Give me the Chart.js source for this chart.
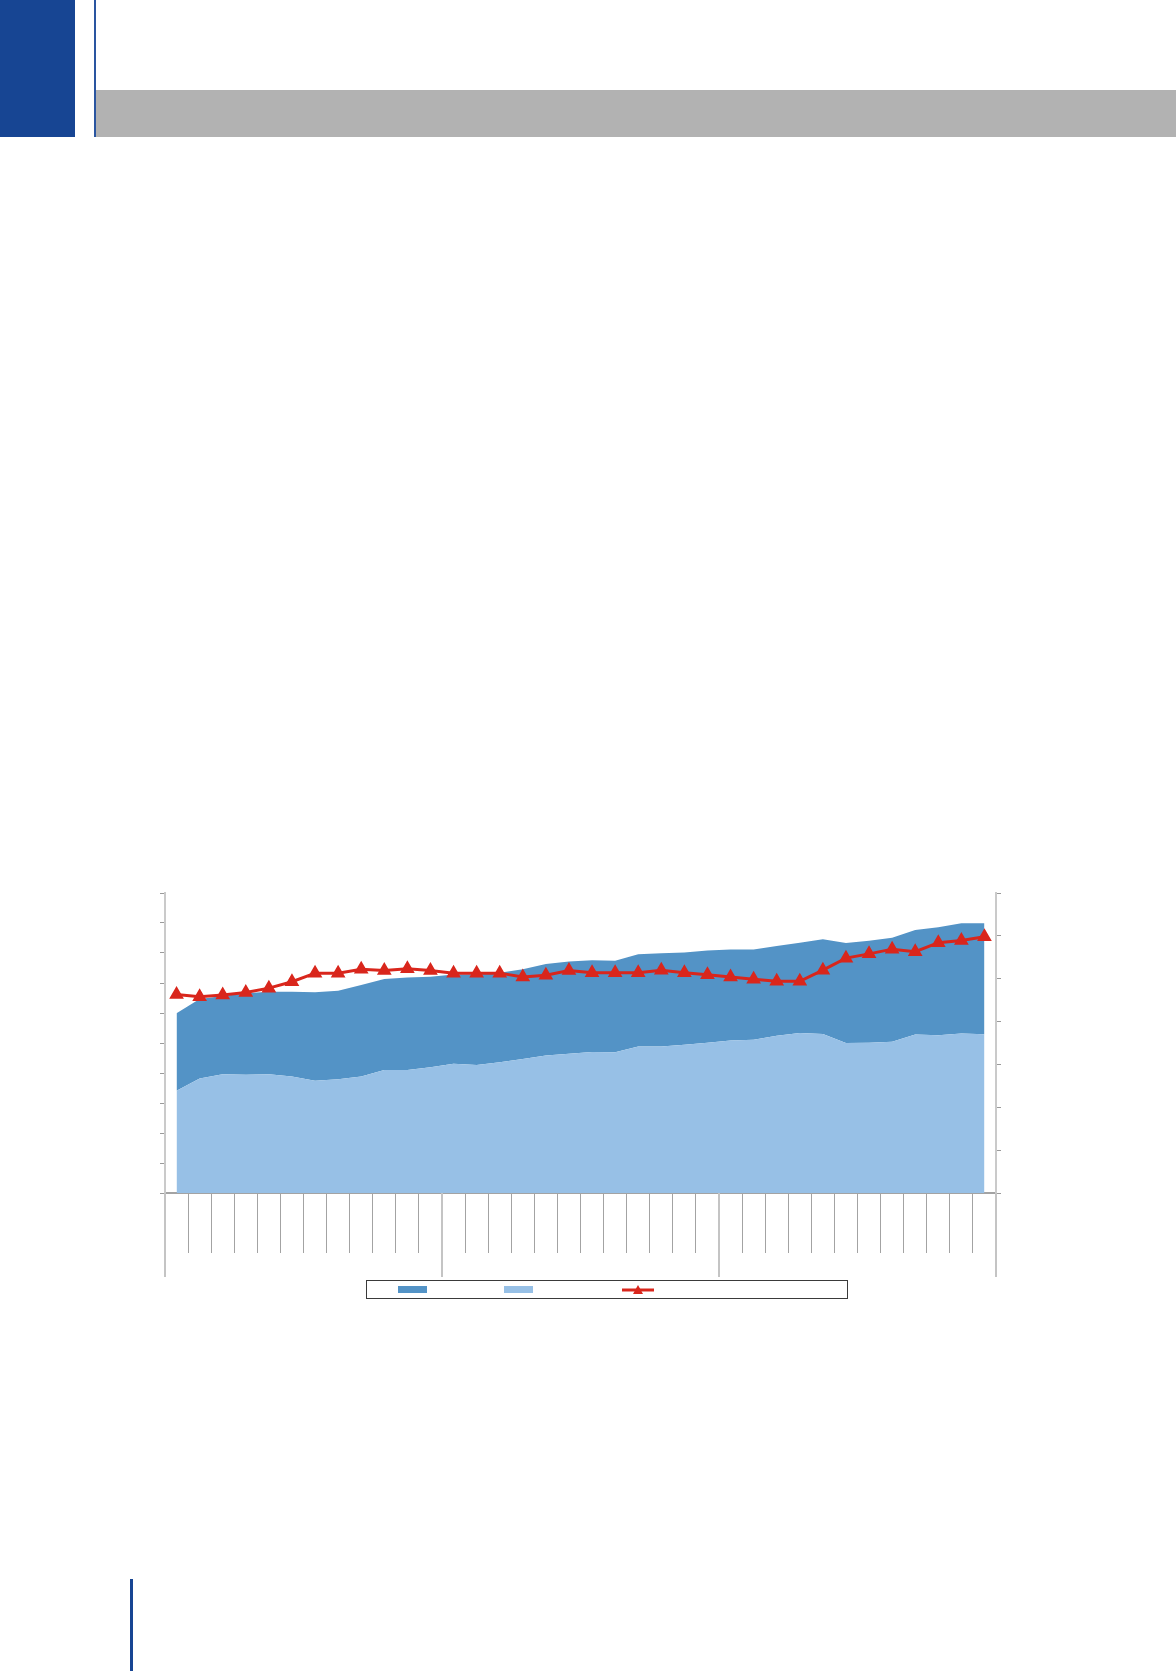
<!DOCTYPE html>
<html>
<head>
<meta charset="utf-8">
<script src="https://cdn.jsdelivr.net/npm/chart.js@4/dist/chart.umd.min.js"></script>
<style>
  body { margin: 0; background: #fff; width: 1176px; height: 1671px; position: relative; overflow: hidden; }
  .blk { position: absolute; }
  #chartBox { position: absolute; left: 155px; top: 883px; width: 855px; height: 400px; }
  #legend { position: absolute; left: 366px; top: 1280px; width: 480px; height: 17px; border: 1px solid #3a3a3a; }
  .sw { position: absolute; top: 5px; height: 7px; width: 29px; }
</style>
</head>
<body>
<!-- шапка страницы -->
<div class="blk" style="left:0;top:0;width:75px;height:137px;background:#174593"></div>
<div class="blk" style="left:94px;top:0;width:2px;height:137px;background:#2a55a0"></div>
<div class="blk" style="left:96px;top:90px;width:1080px;height:47px;background:#b2b2b2"></div>
<div class="blk" style="left:130px;top:1579px;width:3px;height:92px;background:#174593"></div>

<div id="chartBox"><canvas id="myChart" width="855" height="400"></canvas></div>

<!-- легенда без подписей -->
<div id="legend">
  <div class="sw" style="left:31px;background:#5393c6"></div>
  <div class="sw" style="left:137px;background:#97c0e6"></div>
  <svg style="position:absolute;left:254px;top:1px" width="34" height="16">
    <line x1="1" y1="8" x2="33" y2="8" stroke="#d9261c" stroke-width="3"/>
    <polygon points="17,3 22,12 12,12" fill="#d9261c"/>
  </svg>
</div>

<script>
// категории: 3 года по 12 месяцев
const months = ['1','2','3','4','5','6','7','8','9','10','11','12',
                '1','2','3','4','5','6','7','8','9','10','11','12',
                '1','2','3','4','5','6','7','8','9','10','11','12']

// нижняя (светлая) область
const lightValues = [34.1, 38.2, 39.6, 39.4, 39.6, 38.8, 37.4, 37.9, 38.8, 41.0, 41.0, 41.9,
                     43.1, 42.7, 43.6, 44.7, 45.8, 46.4, 47.0, 46.9, 48.8, 48.8, 49.4, 50.1,
                     50.8, 51.1, 52.4, 53.3, 53.0, 50.0, 50.1, 50.4, 52.8, 52.6, 53.2, 52.9]

// верхняя (тёмная) область, складывается поверх светлой
const darkValues = [25.8, 26.5, 26.1, 27.2, 27.5, 28.3, 29.5, 29.5, 30.5, 30.3, 30.8, 30.2,
                    29.7, 30.2, 29.8, 29.9, 30.5, 30.8, 30.6, 30.5, 30.8, 31.1, 30.8, 30.7,
                    30.4, 30.1, 29.9, 30.1, 31.6, 33.3, 34.0, 34.7, 34.9, 36.0, 36.7, 37.0]

// линия по правой оси
const redValues = [46.3, 45.8, 46.2, 46.8, 47.8, 49.3, 51.3, 51.3, 52.2, 51.9, 52.3, 51.9,
                   51.3, 51.3, 51.3, 50.4, 50.8, 51.9, 51.4, 51.4, 51.4, 52.0, 51.4, 50.9,
                   50.4, 49.9, 49.4, 49.4, 52.0, 54.8, 55.8, 56.9, 56.3, 58.4, 58.9, 59.8]

const leftMax = 100
const rightMax = 70

// длинные риски между годами
const groupLines = {
    id: 'groupLines',
    afterDraw(chart) {
        const x = chart.scales.x
        const area = chart.chartArea
        const c = chart.ctx
        const step = x.getPixelForValue(1) - x.getPixelForValue(0)
        c.save()
        c.strokeStyle = '#c4c4c4'
        c.lineWidth = 2
        for (let i = 0; i <= months.length; i += 12) {
            const px = Math.round(x.getPixelForValue(i) - step / 2)
            c.beginPath()
            c.moveTo(px, area.bottom)
            c.lineTo(px, area.bottom + 84)
            c.stroke()
        }
        c.restore()
    }
}

const ctx = document.getElementById('myChart').getContext('2d')

new Chart(ctx, {
    type: 'line',
    data: {
        labels: months,
        datasets: [{
            data: redValues,
            yAxisID: 'y1',
            borderColor: '#d9261c',
            backgroundColor: '#d9261c',
            borderWidth: 3,
            pointStyle: 'triangle',
            pointRadius: 5.5,
            pointHoverRadius: 5.5,
            fill: false,
            order: 0
        }, {
            data: lightValues,
            yAxisID: 'y',
            stack: 'a',
            backgroundColor: '#97c0e6',
            borderWidth: 0,
            pointRadius: 0,
            fill: 'origin',
            order: 2
        }, {
            data: darkValues,
            yAxisID: 'y',
            stack: 'a',
            backgroundColor: '#5393c6',
            borderWidth: 0,
            pointRadius: 0,
            fill: '-1',
            order: 3
        }]
    },
    options: {
        responsive: false,
        animation: false,
        layout: { padding: { top: 10, left: 0, right: 0, bottom: 0 } },
        plugins: { legend: { display: false }, tooltip: { enabled: false } },
        elements: { line: { tension: 0 } },
        scales: {
            x: {
                offset: true,
                grid: { offset: true, drawOnChartArea: false, tickLength: 60, color: '#a3a3a3', lineWidth: 1 },
                border: { color: '#a3a3a3', width: 2 },
                ticks: { display: false },
                afterFit(s) { s.height = 90 }
            },
            y: {
                position: 'left',
                stacked: true,
                min: 0,
                max: leftMax,
                ticks: { display: false, stepSize: 10 },
                grid: { drawOnChartArea: false, tickLength: 5, color: '#9a9a9a' },
                border: { color: '#cacaca', width: 2 },
                afterFit(s) { s.width = 10 }
            },
            y1: {
                position: 'right',
                min: 0,
                max: rightMax,
                ticks: { display: false, stepSize: 10 },
                grid: { drawOnChartArea: false, tickLength: 5, color: '#9a9a9a' },
                border: { color: '#cacaca', width: 2 },
                afterFit(s) { s.width = 14 }
            }
        }
    },
    plugins: [groupLines]
})
</script>
</body>
</html>
